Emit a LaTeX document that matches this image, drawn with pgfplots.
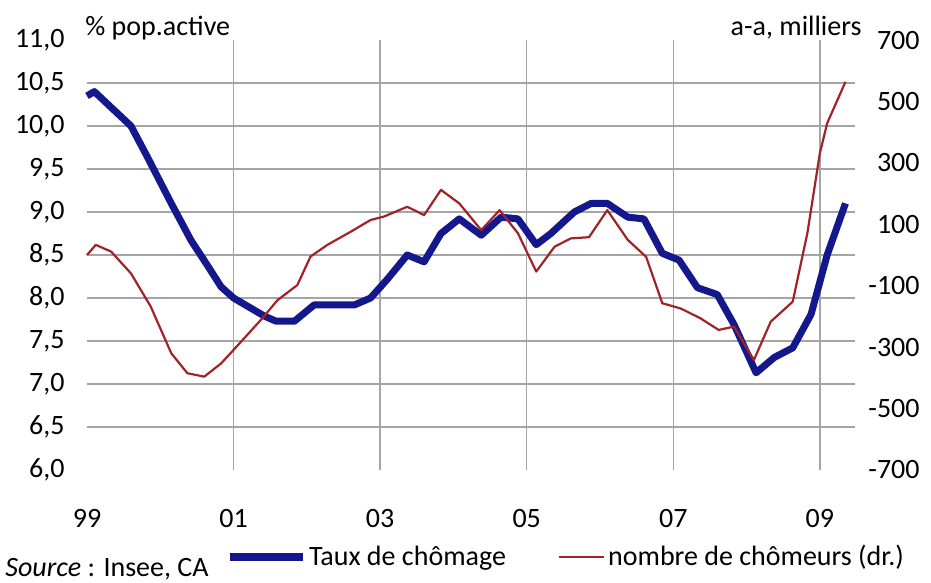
\documentclass[border=0pt]{standalone}
\usepackage{fontspec}
\setmainfont{Carlito}
\usepackage{pgfplots}
\pgfplotsset{compat=1.18}
\definecolor{tblue}{RGB}{20,24,140}
\definecolor{tred}{RGB}{160,35,40}
\definecolor{gridcol}{RGB}{165,165,165}
\pgfplotsset{
  common/.style={
    scale only axis, width=384pt, height=215pt,
    at={(0,0)}, anchor=south west,
    xmin=1999, xmax=2009.48,
    clip=false,
    axis line style={draw=none},
    major tick length=0pt,
    tick label style={font=\fontsize{14}{16}\selectfont},
  },
  blueleg/.style={legend image code/.code={\draw[##1] (0pt,0pt) -- (36.5pt,0pt);}},
  redleg/.style={legend image code/.code={\draw[##1] (0pt,0pt) -- (22.5pt,0pt);}},
}
\begin{document}
\begin{tikzpicture}
\useasboundingbox (-43.5pt,-56.5pt) rectangle (422pt,235pt);
\begin{axis}[common,
  ymin=6, ymax=11,
  xtick={2001,2003,2005,2007,2009}, xticklabels={01,03,05,07,09},
  extra x ticks={1999}, extra x tick labels={99},
  extra x tick style={grid=none},
  ytick={6.5,7,7.5,8,8.5,9,9.5,10,10.5},
  extra y ticks={6,11}, extra y tick style={grid=none},
  xmajorgrids, ymajorgrids,
  grid style={gridcol, line width=0.7pt},
  /pgf/number format/.cd, use comma, fixed, fixed zerofill, precision=1, assume math mode=true,
  /pgfplots/.cd,
  yticklabel style={anchor=east, inner sep=0pt, xshift=-11pt},
  xticklabel style={anchor=north, inner sep=0pt, yshift=-19.5pt},
]
\addplot[tblue, line width=3.5pt, line join=round] table {
1999.0 10.35
1999.1 10.40
1999.35 10.2
1999.6 10.0
1999.83 9.63
2000.15 9.10
2000.42 8.67
2000.65 8.37
2000.83 8.13
2001.0 8.0
2001.24 7.88
2001.42 7.79
2001.58 7.73
2001.83 7.73
2002.1 7.92
2002.4 7.92
2002.65 7.92
2002.87 8.0
2003.1 8.22
2003.37 8.5
2003.6 8.42
2003.83 8.75
2004.08 8.92
2004.38 8.73
2004.65 8.94
2004.88 8.92
2005.13 8.62
2005.33 8.75
2005.65 9.0
2005.88 9.10
2006.1 9.10
2006.38 8.94
2006.6 8.92
2006.85 8.52
2007.08 8.44
2007.33 8.12
2007.6 8.04
2007.83 7.69
2008.13 7.13
2008.38 7.31
2008.63 7.42
2008.88 7.81
2009.1 8.5
2009.35 9.10
};
\node[anchor=base west, font=\fontsize{14}{16}\selectfont, inner sep=0pt] at (rel axis cs:0,1) [xshift=-1pt, yshift=2.5pt] {\% pop.active};
\node[anchor=base east, font=\fontsize{14}{16}\selectfont, inner sep=0pt] at (rel axis cs:1,1) [xshift=3.5pt, yshift=2.5pt] {a-a, milliers};
\node[anchor=base west, font=\fontsize{14}{16}\selectfont, inner sep=0pt] at (rel axis cs:0,0) [xshift=-41pt, yshift=-53pt] {\textit{Source} : Insee, CA};
\end{axis}
\begin{axis}[common,
  ymin=-700, ymax=700,
  hide x axis,
  ytick={-700,-500,-300,-100,100,300,500,700},
  yticklabel pos=right,
  /pgf/number format/.cd, fixed, precision=0, assume math mode=true,
  /pgfplots/.cd,
  yticklabel style={anchor=east, inner sep=0pt, xshift=32.5pt},
  legend columns=2,
  legend cell align=left,
  legend style={at={(rel axis cs:0,0)}, anchor=west, xshift=69.5pt, yshift=-43.5pt,
    draw=none, fill=none, inner sep=0pt, outer sep=0pt,
    font=\fontsize{14}{16}\selectfont,
    nodes={inner sep=0pt},
    /tikz/every odd column/.append style={column sep=1.5pt},
    /tikz/every even column/.append style={column sep=26pt}},
]
\addlegendimage{tblue, line width=3.5pt, blueleg}
\addlegendentry{Taux de chômage}
\addplot[tred, line width=1.1pt, line join=round, redleg] table {
1999.0 0
1999.12 33
1999.33 11
1999.6 -60
1999.87 -168
2000.15 -320
2000.37 -385
2000.6 -396
2000.83 -353
2001.0 -309
2001.37 -212
2001.6 -147
2001.87 -98
2002.05 -5
2002.28 33
2002.6 76
2002.87 114
2003.05 125
2003.37 157
2003.6 130
2003.83 212
2004.08 168
2004.38 81
2004.63 146
2004.88 71
2005.13 -54
2005.38 27
2005.6 54
2005.85 58
2006.1 146
2006.38 49
2006.63 -6
2006.85 -157
2007.1 -174
2007.37 -206
2007.62 -244
2007.83 -233
2008.1 -342
2008.33 -217
2008.63 -152
2008.83 71
2009.0 331
2009.1 429
2009.35 564
};
\addlegendentry{nombre de chômeurs (dr.)}
\end{axis}
\end{tikzpicture}
\end{document}
